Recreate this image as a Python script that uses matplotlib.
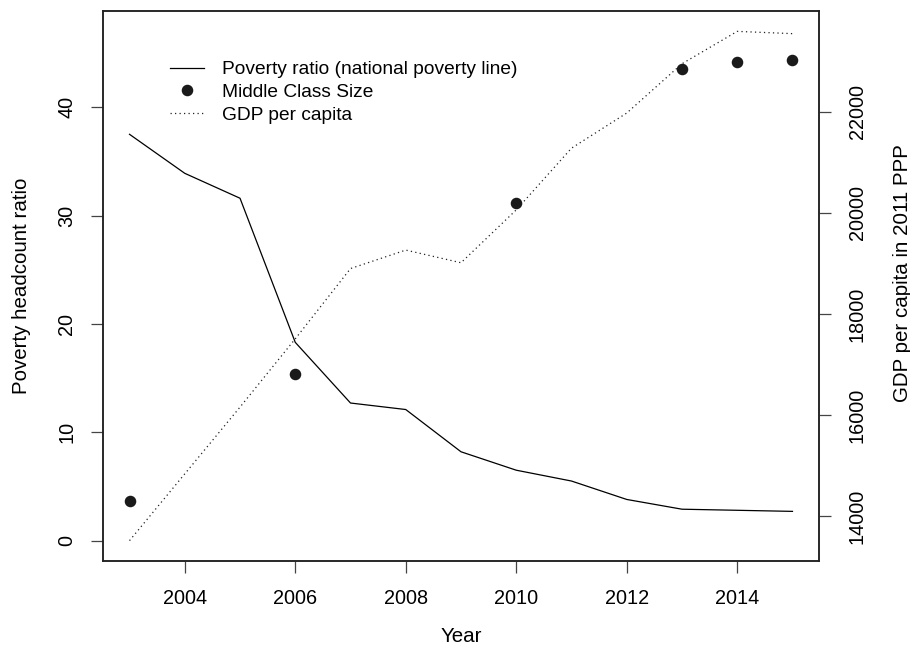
import matplotlib
matplotlib.use("Agg")
import matplotlib.pyplot as plt

plt.rcParams['font.family'] = ['Liberation Sans', 'DejaVu Sans']

years = [2003, 2004, 2005, 2006, 2007, 2008, 2009, 2010, 2011, 2012, 2013, 2014, 2015]
poverty_ratio = [37.5, 33.9, 31.6, 18.3, 12.7, 12.1, 8.2, 6.5, 5.5, 3.8, 2.9, 2.8, 2.7]
mc_years = [2003, 2006, 2010, 2013, 2014, 2015]
middle_class = [3.7, 15.4, 31.2, 43.5, 44.2, 44.4]
gdp_per_capita = [13520, 14840, 16160, 17510, 18900, 19265, 19015, 20060, 21280, 21975, 22950, 23590, 23545]

x_ticks = [2004, 2006, 2008, 2010, 2012, 2014]
left_ticks = [0, 10, 20, 30, 40]
right_ticks = [14000, 16000, 18000, 20000, 22000]

W, H = 910, 646
fig = plt.figure(figsize=(W / 100, H / 100), dpi=100)
L, R, T, B = 103, 819, 11, 561
ax = fig.add_axes([L / W, 1 - B / H, (R - L) / W, (B - T) / H])
ax2 = ax.twinx()

FS_TICK = 14.3
FS_LAB = 14.8
FS_LEG = 13.8

ln1, = ax.plot(years, poverty_ratio, color='black', lw=0.9, label='Poverty ratio (national poverty line)')
pts, = ax.plot(mc_years, middle_class, linestyle='none', marker='o', markersize=7.3,
               color='#1a1a1a', label='Middle Class Size')
ln2, = ax2.plot(years, gdp_per_capita, color='#222222', lw=0.9, linestyle=(0, (1, 2.6)),
                label='GDP per capita')

def rlim(vals):
    a, b = min(vals), max(vals)
    e = 0.04 * (b - a)
    return a - e, b + e

ax.set_xlim(rlim(years))
ax.set_ylim(-1.88, 48.88)
ax2.set_ylim(rlim(gdp_per_capita))

ax.set_xticks(x_ticks)
ax.set_xticklabels([str(v) for v in x_ticks])
ax.set_yticks(left_ticks)
ax.set_yticklabels([str(v) for v in left_ticks], rotation=90, va='center')
ax2.set_yticks(right_ticks)
ax2.set_yticklabels([str(v) for v in right_ticks], rotation=90, va='center')

ax.tick_params(axis='x', direction='out', length=8.6, width=0.9, pad=11.5, labelsize=FS_TICK, color='#444444')
ax.tick_params(axis='y', direction='out', length=8.6, width=0.9, pad=10.6, labelsize=FS_TICK, color='#444444')
ax2.tick_params(axis='y', direction='out', length=8.6, width=0.9, pad=12, labelsize=FS_TICK, color='#444444')

for a in (ax, ax2):
    for s in a.spines.values():
        s.set_linewidth(1.1)
        s.set_color('#222222')

fig.text(461 / W, 1 - 637 / H, 'Year', ha='center', va='center', fontsize=FS_LAB)
fig.text(22 / W, 1 - 286 / H, 'Poverty headcount ratio', ha='center', va='center',
         rotation=90, fontsize=FS_LAB)
fig.text(902 / W, 1 - 273 / H, 'GDP per capita in 2011 PPP', ha='center', va='center',
         rotation=90, fontsize=FS_LAB)

leg = ax2.legend(handles=[ln1, pts, ln2], loc='upper left',
                 bbox_to_anchor=(170 / W, 1 - 61 / H), bbox_transform=fig.transFigure,
                 frameon=False, fontsize=FS_LEG, handlelength=1.75, handletextpad=0.95,
                 labelspacing=0.27, borderpad=0, borderaxespad=0)

fig.savefig('out.png', dpi=100)
